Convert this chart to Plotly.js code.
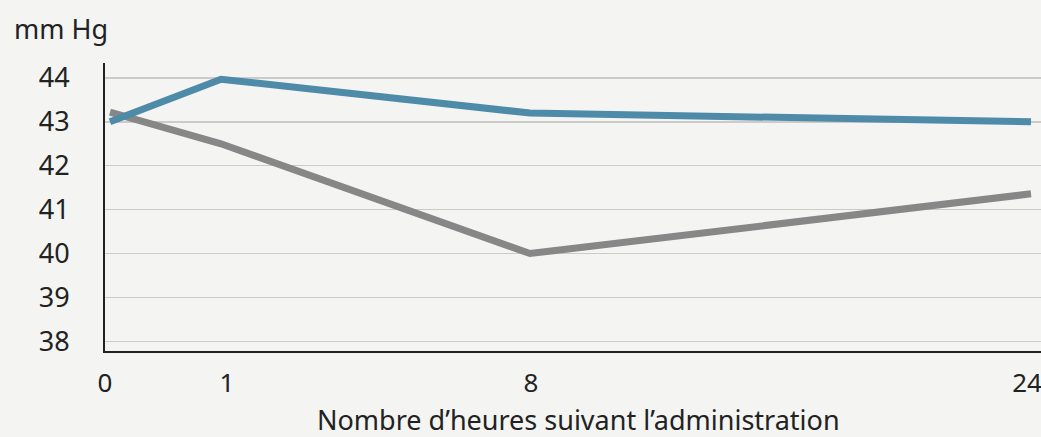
<!DOCTYPE html>
<html>
<head>
<meta charset="utf-8">
<script src="https://cdn.plot.ly/plotly-3.0.1.min.js"></script>
<style>html,body{margin:0;padding:0;background:#f4f4f2;}#chart{width:1041px;height:437px;}</style>
</head>
<body>
<div id="chart"></div>
<script>
// Hours after administration (tick labels)
const hourLabels = ['0', '1', '8', '24'];
// Position of each reading along the (non-uniform) horizontal axis
const hourSlots = [4, 115, 424, 925];
// Position of each hour label along the axis
const labelSlots = [-1, 121, 425, 921];
// Series values (mm Hg)
const seriesBlue = [43.0, 43.97, 43.2, 43.0];
const seriesGray = [43.22, 42.5, 40.0, 41.36];
const yTicks = [38, 39, 40, 41, 42, 43, 44];

const FONT = '"Noto Sans", "Open Sans", sans-serif';

const traces = [
  {x: hourSlots, y: seriesGray, type: 'scatter', mode: 'lines',
   line: {color: '#868786', width: 7, shape: 'linear'}, hoverinfo: 'y'},
  {x: hourSlots, y: seriesBlue, type: 'scatter', mode: 'lines',
   line: {color: '#4d8ba9', width: 7, shape: 'linear'}, hoverinfo: 'y'}
];

const layout = {
  width: 1041, height: 437,
  paper_bgcolor: '#f4f4f2', plot_bgcolor: '#f4f4f2',
  margin: {l: 105, r: 0, t: 63, b: 86},
  showlegend: false,
  font: {family: FONT, size: 26, color: '#222222'},
  xaxis: {
    range: [-1, 935], fixedrange: true,
    tickmode: 'array', tickvals: labelSlots, ticktext: hourLabels,
    showgrid: false, zeroline: false,
    showline: true, linecolor: '#222222', linewidth: 2,
    ticks: 'outside', ticklen: 8, tickcolor: 'rgba(0,0,0,0)',
    ticklabeloverflow: 'allow',
    tickfont: {family: FONT, size: 26, color: '#222222'}
  },
  yaxis: {
    range: [37.78, 44.34], fixedrange: true,
    tickmode: 'array', tickvals: yTicks,
    showgrid: true, gridcolor: '#cbcbc9', gridwidth: 1.5,
    zeroline: false,
    showline: true, linecolor: '#222222', linewidth: 2,
    ticks: 'outside', ticklen: 28, tickcolor: 'rgba(0,0,0,0)',
    tickfont: {family: FONT, size: 27, color: '#222222'}
  },
  annotations: [{
    text: 'mm Hg', xref: 'paper', yref: 'paper',
    x: -93 / 936, y: (351 - 29) / 288, xanchor: 'left', yanchor: 'middle',
    showarrow: false, font: {family: FONT, size: 27, color: '#222222'}
  }, {
    text: 'Nombre d\u2019heures suivant l\u2019administration', xref: 'paper', yref: 'paper',
    x: (578 - 105) / 936, y: (351 - 419) / 288, xanchor: 'center', yanchor: 'middle',
    showarrow: false, font: {family: FONT, size: 27, color: '#222222'}
  }]
};

Plotly.newPlot('chart', traces, layout, {displayModeBar: false, staticPlot: true});
</script>
</body>
</html>
